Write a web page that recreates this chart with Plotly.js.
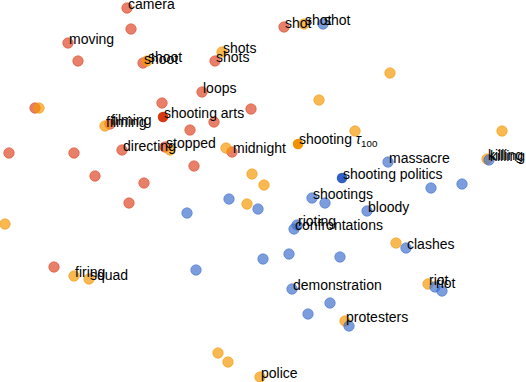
<!DOCTYPE html>
<html>
<head>
<meta charset="utf-8">
<script src="https://cdn.plot.ly/plotly-3.0.1.min.js"></script>
<style>html,body{margin:0;padding:0;background:#fff;}#chart{width:526px;height:382px;}</style>
</head>
<body>
<div id="chart"></div>
<script>
// Projected embedding coordinates (screen-like units)
const redX = [127,131,68,78,143,215,202,162,251,214,190,35,110,122,165,232,9,74,194,95,144,129,54,284];
const redY = [8,29,43,61,63,61,92,103,109,122,130,108,124,150,147,152,153,153,166,176,183,203,267,27];
const redLabels = ["camera","","moving","","shoot","shots","loops","","","","","","filming","directing","stopped","midnight","","","","","","","","shot"];

const orangeX = [304,390,319,355,502,487,252,264,247,5,396,74,89,428,345,218,228,260,105,170,226,147,222,39];
const orangeY = [24,73,100,131,131,159,174,185,204,224,243,276,279,284,321,353,362,377,126,150,148,61,52,108];
const orangeLabels = ["shot","","","","","killing","","","","","","firing","squad","riot","protesters","","","police","filming","","","shoot","shots",""];

const blueX = [323,388,431,462,312,325,367,297,294,187,229,258,406,196,263,289,340,292,330,308,349,435,442,489];
const blueY = [24,162,188,184,198,203,211,225,229,213,199,209,248,270,259,254,257,289,303,314,326,287,291,160];
const blueLabels = ["shot","massacre","","","shootings","","bloody","rioting","confrontations","","","","clashes","","","","","demonstration","","","","riot","","killing"];

// Highlighted query words
const hiX = [163,298,342];
const hiY = [117,144,178];
const hiLabels = ["shooting arts","shooting <i>τ</i><sub>100</sub>","shooting politics"];

const redBase = "221,68,34";
const orangeBase = "245,150,0";
const blueBase = "60,110,205";
const hiColors = ["rgb(214,58,18)","rgb(243,146,0)","rgb(48,96,200)"];

function pts(x, y, base) {
  return {
    x: x, y: y, type: "scatter", mode: "markers", hoverinfo: "skip",
    marker: {size: 10.5, color: "rgba(" + base + ",0.68)", line: {width: 1, color: "rgba(" + base + ",0.55)"}}
  };
}

const traces = [
  pts(redX, redY, redBase),
  pts(orangeX, orangeY, orangeBase),
  pts(blueX, blueY, blueBase),
  {x: hiX, y: hiY, type: "scatter", mode: "markers", hoverinfo: "skip",
   marker: {size: 10.5, color: hiColors, line: {width: 0}}}
];

const annotations = [];
function addLabels(x, y, labels) {
  labels.forEach(function (t, i) {
    if (!t) return;
    annotations.push({
      x: x[i], y: y[i], xref: "x", yref: "y", text: t, showarrow: false,
      xanchor: "left", yanchor: "middle", yshift: 4, xshift: -1,
      font: {family: "Liberation Sans, Arial, sans-serif", size: 14, color: "#000"}
    });
  });
}
addLabels(redX, redY, redLabels);
addLabels(orangeX, orangeY, orangeLabels);
addLabels(blueX, blueY, blueLabels);
addLabels(hiX, hiY, hiLabels);

const layout = {
  width: 526, height: 382,
  margin: {l: 0, r: 0, t: 0, b: 0},
  paper_bgcolor: "#fff", plot_bgcolor: "#fff",
  showlegend: false,
  xaxis: {range: [0, 526], visible: false, fixedrange: true},
  yaxis: {range: [382, 0], visible: false, fixedrange: true},
  annotations: annotations
};

Plotly.newPlot("chart", traces, layout, {displayModeBar: false, staticPlot: true});
</script>
</body>
</html>
